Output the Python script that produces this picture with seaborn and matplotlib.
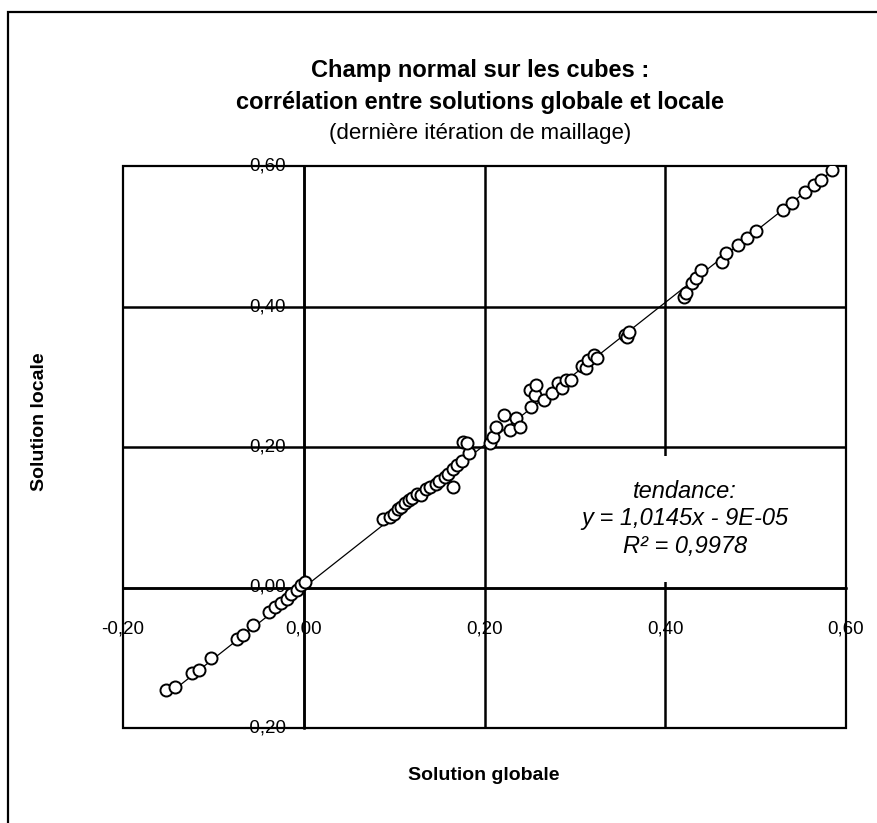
import numpy as np
import pandas as pd
import matplotlib
matplotlib.use("Agg")
import matplotlib.pyplot as plt
from matplotlib.patches import Rectangle
import seaborn as sns

# Global vs local solution values (normal field on the cubes)
solution_globale = [
    -0.152, -0.143, -0.124, -0.116, -0.103, -0.074, -0.067, -0.056, -0.039, -0.032,
    -0.025, -0.019, -0.014, -0.008, -0.003, 0.001,
    0.088, 0.095, 0.100, 0.104, 0.108, 0.112, 0.116, 0.120, 0.125, 0.130,
    0.135, 0.140, 0.146, 0.150, 0.156, 0.160, 0.165, 0.170, 0.165, 0.175,
    0.183, 0.176, 0.181, 0.206, 0.209, 0.213, 0.222, 0.228, 0.235, 0.239,
    0.252, 0.250, 0.256, 0.257, 0.266, 0.275, 0.281, 0.286, 0.290, 0.296,
    0.308, 0.312, 0.314, 0.321, 0.325, 0.355, 0.358, 0.360,
    0.421, 0.423, 0.430, 0.434, 0.440, 0.463, 0.467, 0.480, 0.490, 0.500,
    0.530, 0.540, 0.555, 0.565, 0.572, 0.585,
]
solution_locale = [
    -0.146, -0.141, -0.122, -0.117, -0.100, -0.074, -0.068, -0.054, -0.035, -0.028,
    -0.022, -0.016, -0.009, -0.004, 0.003, 0.008,
    0.098, 0.100, 0.105, 0.112, 0.115, 0.120, 0.125, 0.128, 0.133, 0.131,
    0.140, 0.143, 0.148, 0.152, 0.158, 0.162, 0.168, 0.175, 0.143, 0.180,
    0.191, 0.207, 0.205, 0.205, 0.214, 0.228, 0.245, 0.224, 0.241, 0.228,
    0.257, 0.281, 0.274, 0.288, 0.267, 0.277, 0.291, 0.284, 0.295, 0.295,
    0.316, 0.312, 0.324, 0.331, 0.326, 0.359, 0.357, 0.364,
    0.414, 0.419, 0.433, 0.440, 0.452, 0.463, 0.476, 0.488, 0.498, 0.508,
    0.538, 0.548, 0.563, 0.573, 0.580, 0.594,
]

# Linear trend printed in the annotation
pente = 1.0145
ordonnee = -9e-05
r2 = 0.9978

graduations = [-0.2, 0.0, 0.2, 0.4, 0.6]
etiquettes = ["-0,20", "0,00", "0,20", "0,40", "0,60"]

df = pd.DataFrame({"globale": solution_globale, "locale": solution_locale})

sns.set_theme(style="white")
plt.rcParams["font.family"] = ["Liberation Sans", "DejaVu Sans"]
plt.rcParams["text.color"] = "black"
plt.rcParams["axes.labelcolor"] = "black"
plt.rcParams["xtick.color"] = "black"
plt.rcParams["ytick.color"] = "black"

W, H = 877, 823
fig = plt.figure(figsize=(W / 100, H / 100), dpi=100)
fig.patch.set_facecolor("white")

x0, x1, y0, y1 = 123, 846, 166, 728
ax = fig.add_axes([x0 / W, 1 - y1 / H, (x1 - x0) / W, (y1 - y0) / H])
ax.set_facecolor("white")
ax.set_xlim(-0.2, 0.6)
ax.set_ylim(-0.2, 0.6)

# grid lines through the interior values
for v in [0.0, 0.2, 0.4]:
    ax.axvline(v, color="black", lw=1.8, zorder=1)
    ax.axhline(v, color="black", lw=1.8, zorder=1)

# axes crossing at zero
ax.spines["left"].set_position(("data", 0))
ax.spines["bottom"].set_position(("data", 0))
ax.spines["right"].set_visible(False)
ax.spines["top"].set_visible(False)
for s in ["left", "bottom"]:
    ax.spines[s].set_color("black")
    ax.spines[s].set_linewidth(1.8)

# plot-area frame
ax.add_patch(Rectangle((0, 0), 1, 1, transform=ax.transAxes, fill=False,
                       edgecolor="black", lw=1.6, zorder=3, clip_on=False))

ax.set_xticks(graduations)
ax.set_xticklabels(etiquettes)
ax.set_yticks(graduations)
ax.set_yticklabels(etiquettes)
ax.tick_params(axis="x", length=0, pad=24, labelsize=13.5, colors="black")
ax.tick_params(axis="y", length=0, pad=13, labelsize=13.5, colors="black")
for lab in ax.get_yticklabels():
    lab.set_verticalalignment("center")

# trend line over the data range
xs = np.array([min(solution_globale), max(solution_globale)])
tend = pd.DataFrame({"x": xs, "y": pente * xs + ordonnee})
sns.lineplot(data=tend, x="x", y="y", ax=ax, color="black", lw=0.9, zorder=4)

sns.scatterplot(data=df, x="globale", y="locale", ax=ax, s=75, marker="o",
                facecolor="white", edgecolor="black", linewidth=1.4, zorder=5)
ax.set_xlabel("")
ax.set_ylabel("")

# trend label on a white box
texte = "tendance:\n" + f"y = {pente:.4f}x - 9E-05".replace(".", ",") + "\n" + \
        f"R² = {r2:.4f}".replace(".", ",")
ax.text((685 - x0) / (x1 - x0), 1 - (519 - y0) / (y1 - y0), texte,
        transform=ax.transAxes, ha="center", va="center", fontsize=17,
        style="italic", linespacing=1.25, zorder=2,
        bbox=dict(facecolor="white", edgecolor="none", pad=17))

# titles
fig.text(480 / W, 1 - 70 / H, "Champ normal sur les cubes :", ha="center", va="center",
         fontsize=17, fontweight="bold")
fig.text(480 / W, 1 - 103 / H, "corrélation entre solutions globale et locale",
         ha="center", va="center", fontsize=17, fontweight="bold")
fig.text(480 / W, 1 - 134 / H, "(dernière itération de maillage)", ha="center",
         va="center", fontsize=16)

fig.text(484 / W, 1 - 776 / H, "Solution globale", ha="center", va="center",
         fontsize=14, fontweight="bold")
fig.text(40 / W, 1 - 422 / H, "Solution locale", ha="center", va="center",
         fontsize=14, fontweight="bold", rotation=90)

# chart-area border
fig.patches.append(Rectangle((8 / W, -0.1), 1.2, 1 - 12 / H + 0.1,
                             transform=fig.transFigure, fill=False,
                             edgecolor="black", lw=1.6))

fig.savefig("out.png", dpi=100, facecolor="white")
